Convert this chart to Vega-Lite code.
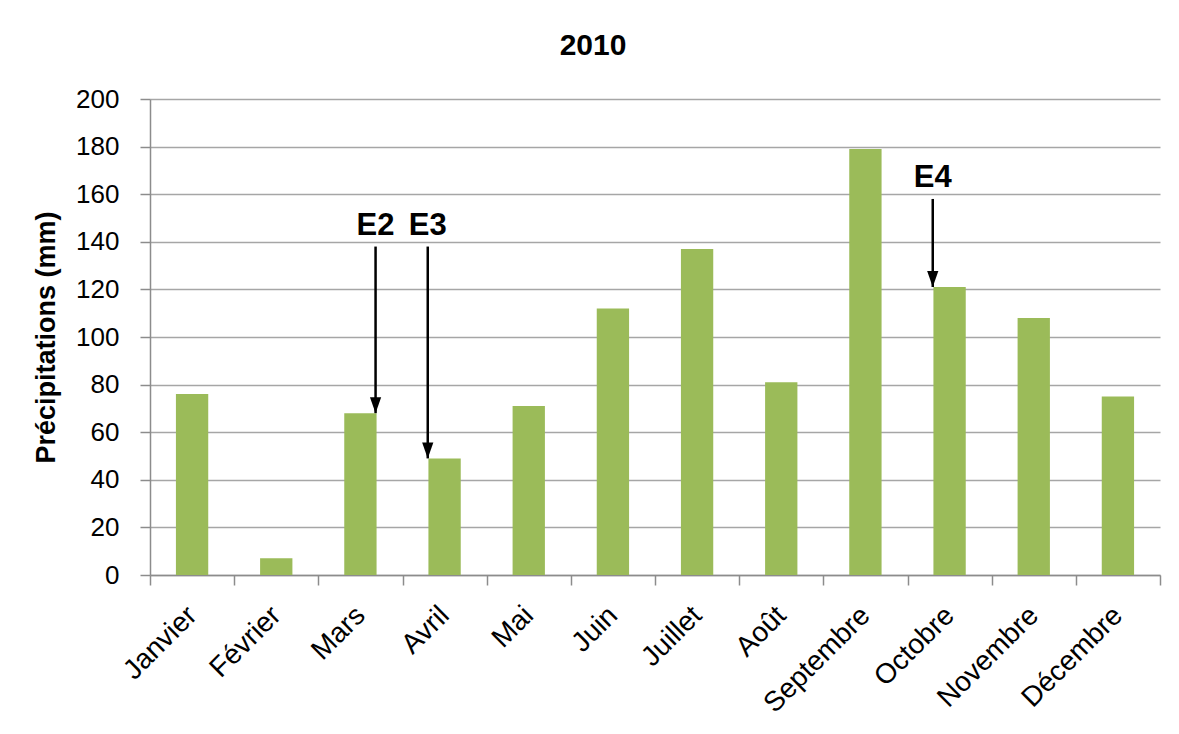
{
  "$schema": "https://vega.github.io/schema/vega-lite/v6.json",
  "width": 1010,
  "height": 476,
  "autosize": "none",
  "padding": {"left": 150, "top": 99, "right": 19, "bottom": 159},
  "background": "white",
  "title": {
    "text": "2010",
    "font": "Liberation Sans",
    "fontSize": 30,
    "fontWeight": "bold",
    "color": "#000000",
    "anchor": "middle",
    "frame": "group",
    "dx": -62,
    "offset": 25
  },
  "config": {
    "view": {"stroke": null},
    "axis": {
      "labelFont": "Liberation Sans",
      "titleFont": "Liberation Sans",
      "labelColor": "#000000",
      "titleColor": "#000000",
      "domainColor": "#8c8c8c",
      "domainWidth": 1.5,
      "tickColor": "#8c8c8c",
      "tickWidth": 1.5,
      "tickSize": 10,
      "gridColor": "#a6a6a6",
      "gridWidth": 1.5
    }
  },
  "datasets": {
    "rain": [
      {"mois": "Janvier", "precip": 76},
      {"mois": "Février", "precip": 7},
      {"mois": "Mars", "precip": 68},
      {"mois": "Avril", "precip": 49},
      {"mois": "Mai", "precip": 71},
      {"mois": "Juin", "precip": 112},
      {"mois": "Juillet", "precip": 137},
      {"mois": "Août", "precip": 81},
      {"mois": "Septembre", "precip": 179},
      {"mois": "Octobre", "precip": 121},
      {"mois": "Novembre", "precip": 108},
      {"mois": "Décembre", "precip": 75}
    ],
    "notes": [
      {"label": "E2", "mois": "Mars", "start": 138, "end": 68, "labelY": 143, "side": "right"},
      {"label": "E3", "mois": "Avril", "start": 138, "end": 49, "labelY": 143, "side": "left"},
      {"label": "E4", "mois": "Octobre", "start": 158, "end": 121, "labelY": 163, "side": "left"}
    ]
  },
  "layer": [
    {
      "data": {"name": "rain"},
      "mark": {"type": "bar", "color": "#9BBB59", "width": {"band": 0.384}},
      "encoding": {
        "x": {
          "field": "mois",
          "type": "nominal",
          "scale": {
            "domain": ["Janvier", "Février", "Mars", "Avril", "Mai", "Juin", "Juillet", "Août", "Septembre", "Octobre", "Novembre", "Décembre"],
            "paddingInner": 0,
            "paddingOuter": 0
          },
          "axis": {
            "title": null,
            "labelAngle": -45,
            "labelFontSize": 28,
            "labelBaseline": "middle",
            "labelAlign": "right",
            "labelPadding": 26,
            "tickBand": "extent",
            "grid": false
          }
        },
        "y": {
          "field": "precip",
          "type": "quantitative",
          "scale": {"domain": [0, 200], "nice": false},
          "axis": {
            "title": "Précipitations (mm)",
            "titleFontSize": 27,
            "titleFontWeight": "bold",
            "titlePadding": 15,
            "labelFontSize": 26,
            "labelPadding": 21,
            "values": [0, 20, 40, 60, 80, 100, 120, 140, 160, 180, 200],
            "grid": true
          }
        }
      }
    },
    {
      "data": {"name": "notes"},
      "transform": [{"filter": "datum.side === 'right'"}],
      "layer": [
        {
          "mark": {"type": "rule", "color": "#000000", "strokeWidth": 2.5},
          "encoding": {
            "x": {"field": "mois", "type": "nominal", "bandPosition": 0.68},
            "y": {"field": "start", "type": "quantitative"},
            "y2": {"field": "end"}
          }
        },
        {
          "mark": {"type": "point", "shape": "M -0.7 -2 L 0.7 -2 L 0 0 Z", "filled": true, "color": "#000000", "opacity": 1, "size": 256},
          "encoding": {
            "x": {"field": "mois", "type": "nominal", "bandPosition": 0.68},
            "y": {"field": "end", "type": "quantitative"}
          }
        },
        {
          "mark": {"type": "text", "font": "Liberation Sans", "fontSize": 31, "fontWeight": "bold", "baseline": "alphabetic", "align": "center", "color": "#000000"},
          "encoding": {
            "x": {"field": "mois", "type": "nominal", "bandPosition": 0.68},
            "y": {"field": "labelY", "type": "quantitative"},
            "text": {"field": "label"}
          }
        }
      ]
    },
    {
      "data": {"name": "notes"},
      "transform": [{"filter": "datum.side === 'left'"}],
      "layer": [
        {
          "mark": {"type": "rule", "color": "#000000", "strokeWidth": 2.5},
          "encoding": {
            "x": {"field": "mois", "type": "nominal", "bandPosition": 0.3},
            "y": {"field": "start", "type": "quantitative"},
            "y2": {"field": "end"}
          }
        },
        {
          "mark": {"type": "point", "shape": "M -0.7 -2 L 0.7 -2 L 0 0 Z", "filled": true, "color": "#000000", "opacity": 1, "size": 256},
          "encoding": {
            "x": {"field": "mois", "type": "nominal", "bandPosition": 0.3},
            "y": {"field": "end", "type": "quantitative"}
          }
        },
        {
          "mark": {"type": "text", "font": "Liberation Sans", "fontSize": 31, "fontWeight": "bold", "baseline": "alphabetic", "align": "center", "color": "#000000"},
          "encoding": {
            "x": {"field": "mois", "type": "nominal", "bandPosition": 0.3},
            "y": {"field": "labelY", "type": "quantitative"},
            "text": {"field": "label"}
          }
        }
      ]
    }
  ]
}
